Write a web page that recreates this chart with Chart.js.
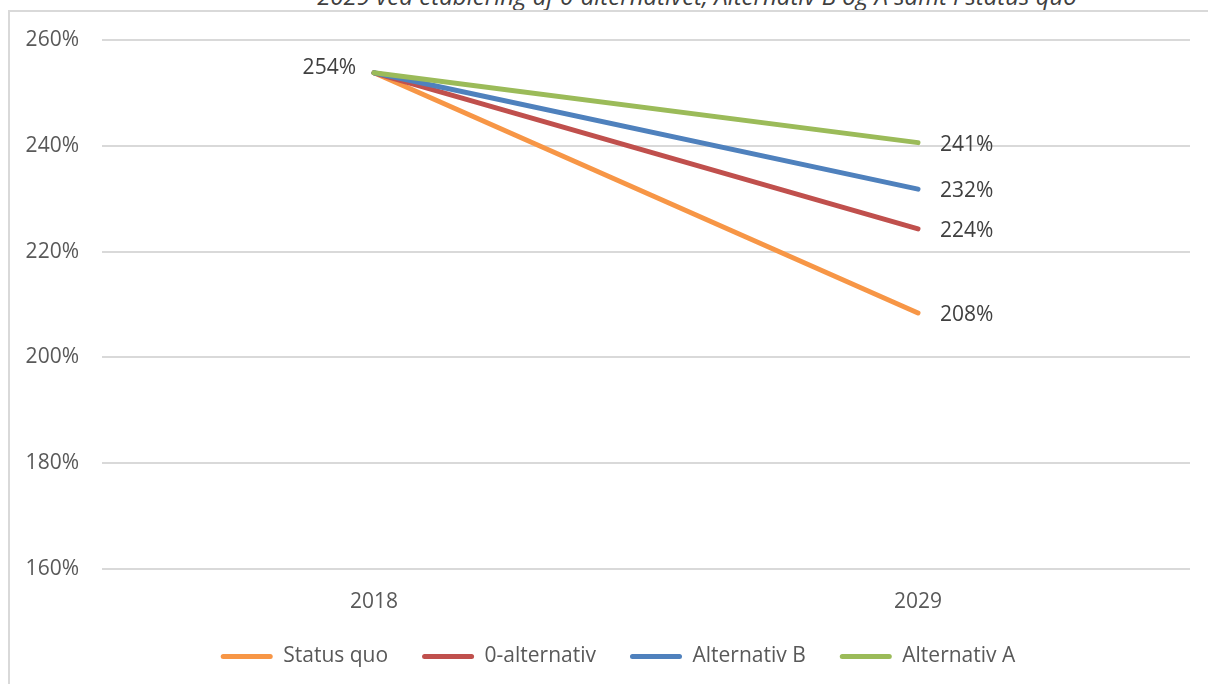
<!DOCTYPE html>
<html>
<head>
<meta charset="utf-8">
<script src="https://cdn.jsdelivr.net/npm/chart.js@4/dist/chart.umd.min.js"></script>
<style>
  html, body { margin: 0; padding: 0; background: #ffffff; overflow: hidden; }
  #wrap { position: relative; width: 1208px; height: 684px; }
  #title { position: absolute; left: 0; top: -18px; width: 1394px; text-align: center;
           font: italic 24px "Open Sans", sans-serif; line-height: 28px; color: #404040; white-space: nowrap; }
  #frame { position: absolute; left: 8px; top: 10px; width: 1210px; height: 690px;
           border-top: 2px solid #d9d9d9; border-left: 2px solid #d9d9d9; box-sizing: border-box; }
  #c { position: absolute; left: 0; top: 0; }
</style>
</head>
<body>
<div id="wrap">
  <div id="title">2029 ved etablering af 0-alternativet, Alternativ B og A samt i status quo</div>
  <div id="frame"></div>
  <canvas id="c" width="1208" height="684"></canvas>
</div>
<script>
// ---- data ----
const categories = ['2018', '2029'];
const seriesNames = ['Status quo', '0-alternativ', 'Alternativ B', 'Alternativ A'];
const statusQuo   = [253.8, 208.4];
const nulAlt      = [253.8, 224.3];
const altB        = [253.8, 231.8];
const altA        = [253.8, 240.6];
const yTicks      = [160, 180, 200, 220, 240, 260];
const seriesColors = ['#F79646', '#C0504D', '#4F81BD', '#9BBB59'];

const seriesValues = [statusQuo, nulAlt, altB, altA];
const FONT = '"Open Sans", sans-serif';
const TEXT = '#595959';
const FS = 21;

const datasets = seriesValues.map((vals, i) => ({
  label: seriesNames[i],
  data: vals,
  borderColor: seriesColors[i],
  backgroundColor: seriesColors[i],
  borderWidth: 5,
  borderCapStyle: 'round',
  borderJoinStyle: 'round',
  pointRadius: 0,
  pointHoverRadius: 0,
  tension: 0,
  fill: false,
  order: seriesValues.length - 1 - i
}));

const labelPlugin = {
  id: 'valueLabels',
  afterDatasetsDraw(chart) {
    const ctx = chart.ctx;
    ctx.save();
    ctx.font = FS + 'px ' + FONT;
    ctx.fillStyle = '#404040';
    ctx.textBaseline = 'middle';
    chart.data.datasets.forEach((ds, di) => {
      const meta = chart.getDatasetMeta(di);
      const last = meta.data[meta.data.length - 1];
      ctx.textAlign = 'left';
      ctx.fillText(Math.round(ds.data[ds.data.length - 1]) + '%', last.x + 22, last.y + 2);
      if (di === chart.data.datasets.length - 1) {
        const first = meta.data[0];
        ctx.textAlign = 'right';
        ctx.fillText(Math.round(ds.data[0]) + '%', first.x - 18, first.y - 5);
      }
    });
    ctx.restore();
  }
};

// shift the legend block slightly right, as in the original
const legendShift = {
  id: 'legendShift',
  afterLayout(chart) {
    if (chart.legend) {
      chart.legend.left += 23;
      chart.legend.right += 23;
    }
  }
};

new Chart(document.getElementById('c'), {
  type: 'line',
  data: { labels: categories, datasets },
  options: {
    responsive: false,
    animation: false,
    events: [],
    layout: { padding: { top: 40, right: 18, bottom: 7, left: 0 } },
    plugins: {
      title: { display: false },
      tooltip: { enabled: false },
      legend: {
        position: 'bottom',
        labels: {
          font: { family: FONT, size: FS },
          color: TEXT,
          boxWidth: 52,
          boxHeight: 5,
          padding: 34,
          sort: (a, b) => a.datasetIndex - b.datasetIndex,
          generateLabels(chart) {
            return chart.data.datasets.map((ds, i) => ({
              text: ds.label,
              fillStyle: ds.borderColor,
              strokeStyle: ds.borderColor,
              lineWidth: 0,
              borderRadius: 2.5,
              hidden: false,
              datasetIndex: i,
              fontColor: TEXT
            }));
          }
        }
      }
    },
    scales: {
      x: {
        offset: true,
        grid: { display: false, drawTicks: false },
        border: { display: false },
        ticks: { font: { family: FONT, size: FS }, color: TEXT, padding: 20 },
        afterFit(scale) { scale.height = 43; }
      },
      y: {
        min: 160,
        max: 260,
        afterBuildTicks(scale) { scale.ticks = yTicks.map(v => ({ value: v })); },
        grid: { color: '#d9d9d9', lineWidth: 2, drawTicks: false },
        border: { display: false },
        ticks: {
          font: { family: FONT, size: FS },
          color: TEXT,
          padding: 23,
          callback: v => v + '%'
        },
        afterFit(scale) { scale.width = 102; }
      }
    }
  },
  plugins: [labelPlugin, legendShift]
});
</script>
</body>
</html>
